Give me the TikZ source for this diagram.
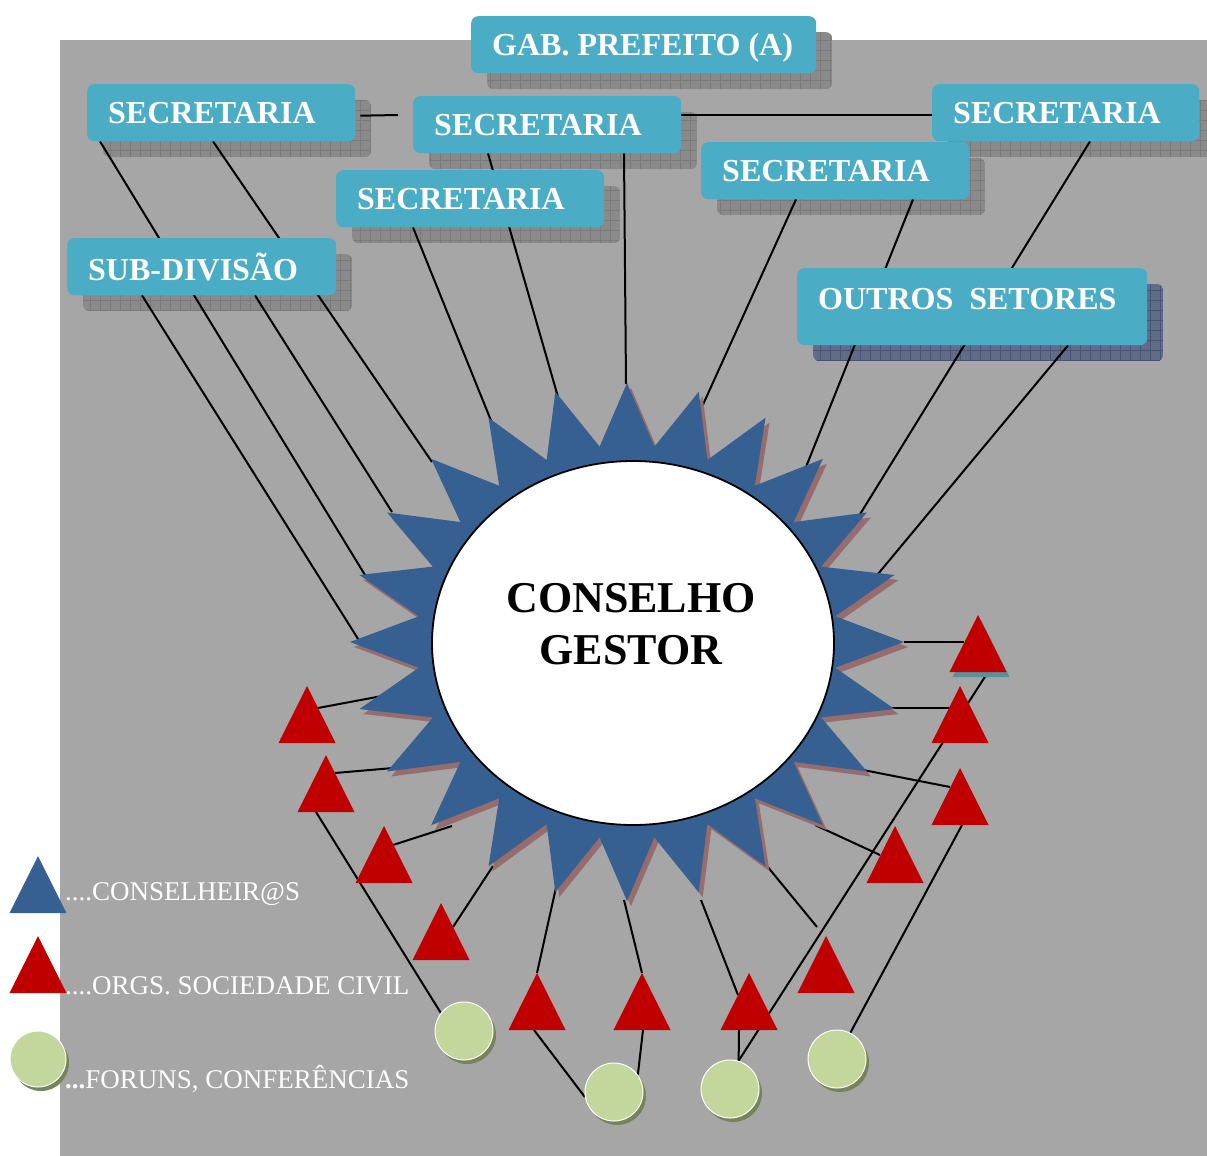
\documentclass[tikz,border=0pt]{standalone}
\usepackage{fontspec}
\setmainfont{Liberation Serif}
\usetikzlibrary{calc}
\definecolor{bggray}{RGB}{166,166,166}
\definecolor{boxblue}{RGB}{75,172,198}
\definecolor{shgray}{RGB}{138,138,138}
\definecolor{shgrid}{RGB}{122,122,122}
\definecolor{shblue}{RGB}{98,108,135}
\definecolor{shbluegrid}{RGB}{70,84,118}
\definecolor{starblue}{RGB}{55,96,146}
\definecolor{starshadow}{RGB}{150,108,108}
\definecolor{trired}{RGB}{192,0,0}
\definecolor{trishadow}{RGB}{90,145,155}
\definecolor{cirgreen}{RGB}{195,214,155}
\definecolor{cirshadow}{RGB}{118,132,92}
\pgfdeclarelayer{back}
\pgfdeclarelayer{mid}
\pgfsetlayers{back,mid,main}
\newcommand\boxshadow[3]{%
  \begin{scope}
    \path[clip, rounded corners=7pt] ([shift={(16,16)}]#1.north west) rectangle ([shift={(16,16)}]#1.south east);
    \fill[#2] ([shift={(16,16)}]#1.north west) rectangle ([shift={(16,16)}]#1.south east);
    \draw[#3, line width=0.5pt, step=10pt] ([shift={(16,16)}]#1.north west) grid ([shift={(16,16)}]#1.south east);
  \end{scope}}
\newcommand\mytri[4]{%
  \coordinate (#1) at (#2,#3);
  \fill[#4] (#1) -- ++(28.5,57) -- ++(-57,0) -- cycle;}
\newcommand\boxtext[2]{\makebox[#1pt][l]{#2}}
\begin{document}
\begin{tikzpicture}[x=1pt, y=-1pt,
  box/.style={fill=boxblue, rounded corners=7pt, text=white,
    font=\fontsize{32}{36}\selectfont\bfseries, inner xsep=21pt, inner ysep=0pt,
    anchor=north west, minimum height=57pt},
  conn/.style={line width=2pt, black},
  circ/.style={circle, fill=cirgreen, draw=white, line width=1pt, minimum size=58pt, inner sep=0pt},
  legtext/.style={text=white, font=\fontsize{27}{30}\selectfont, anchor=base west, inner sep=0pt}]
\useasboundingbox (0,0) rectangle (1207,1156);
\begin{pgfonlayer}{back}
  \fill[white] (0,0) rectangle (1207,1156);
  \fill[bggray] (60,40) rectangle (1207,1156);
\end{pgfonlayer}

% ---------- boxes ----------
\node[box, text depth=0pt] (gab) at (471,16) {\boxtext{303}{GAB. PREFEITO (A)}};
\node[box] (sec1) at (87,84) {\boxtext{226}{SECRETARIA}};
\node[box] (secc) at (413,96) {\boxtext{226}{SECRETARIA}};
\node[box] (secr) at (932,84) {\boxtext{225}{SECRETARIA}};
\node[box] (secmr) at (701,142) {\boxtext{226}{SECRETARIA}};
\node[box] (seclm) at (336,170) {\boxtext{226}{SECRETARIA}};
\node[box] (sub) at (67,238) {\boxtext{227}{SUB-DIVISÃO}};
\node[box, minimum height=77pt, text depth=16pt] (outros) at (797,268) {\boxtext{308}{OUTROS~~SETORES}};

\begin{pgfonlayer}{back}
  \foreach \b in {gab,sec1,secc,secr,secmr,seclm,sub} {\boxshadow{\b}{shgray}{shgrid}}
  \boxshadow{outros}{shblue}{shbluegrid}
\end{pgfonlayer}

% ---------- star ----------
\fill[starshadow, shift={(631,647)}] (0:277 and 259)
  \foreach \a in {0,15,...,345} { -- (\a:277 and 259) -- (\a+7.5:210 and 197) } -- cycle;
\fill[starblue, shift={(627,642)}] (0:277 and 259)
  \foreach \a in {0,15,...,345} { -- (\a:277 and 259) -- (\a+7.5:210 and 197) } -- cycle;
\filldraw[fill=white, draw=black, line width=1.8pt] (633,643) ellipse [x radius=201pt, y radius=182pt];
\node[font=\fontsize{44}{52}\selectfont\bfseries, align=center, inner sep=0pt] (cg) at (631,624) {CONSELHO\\GESTOR};

% star end points
\coordinate (e1) at (365,575);
\coordinate (e2) at (432,462);
\coordinate (e3) at (360,642);
\coordinate (e4) at (392,512);
\coordinate (e5) at (494,428);
\coordinate (e6) at (558,397);
\coordinate (e7) at (626,384);
\coordinate (e8) at (701,409);
\coordinate (e9) at (806,467);
\coordinate (e10) at (854,524);
\coordinate (e11) at (873,580);
\coordinate (r1) at (904,642);
\coordinate (r2) at (891,708);
\coordinate (r3) at (853,768);
\coordinate (r4) at (815,825);
\coordinate (r5) at (758,855);
\coordinate (r6) at (701,900);
\coordinate (r7) at (624,900);
\coordinate (r8) at (557,883);
\coordinate (r9) at (493,866);
\coordinate (r10) at (452,826);
\coordinate (r11) at (393,768);
\coordinate (r12) at (382,696);
\coordinate (stub) at (398,115);

% ---------- triangles ----------
\fill[trishadow] ([shift={(3,5)}]978,615) -- ++(28.5,57) -- ++(-57,0) -- cycle;
\mytri{t1}{307}{686}{trired}
\mytri{t2}{326}{755}{trired}
\mytri{t3}{384}{826}{trired}
\mytri{t4}{441}{903}{trired}
\mytri{t5}{537}{973}{trired}
\mytri{t6}{642}{973}{trired}
\mytri{t7}{749}{973}{trired}
\mytri{t8}{826}{936}{trired}
\mytri{t9}{895}{826}{trired}
\mytri{t10}{960}{768}{trired}
\mytri{t11}{960}{686}{trired}
\mytri{t12}{978}{615}{trired}

% ---------- circles ----------
\foreach \n/\x/\y in {c1/464/1031, c2/614/1092, c3/730/1089, c4/837/1059} {
  \fill[cirshadow] (\x+3,\y+4) circle (29pt);
  \node[circ] (\n) at (\x,\y) {};
}

% ---------- legend ----------
\mytri{lb}{38}{856}{starblue}
\mytri{lr}{38}{936}{trired}
\fill[cirshadow] (41,1063) circle (28pt);
\node[circ, minimum size=56pt] (lc) at (38,1059) {};
\node[legtext] (l1) at (65,900) {....CONSELHEIR@S};
\node[legtext] (l2) at (65,994) {....ORGS. SOCIEDADE CIVIL};
\node[legtext] (l3) at (65,1088) {\textbf{...}FORUNS, CONFERÊNCIAS};

% ---------- connectors ----------
\begin{pgfonlayer}{mid}
  \draw[conn] ([shift={(5,3)}]sec1.east) -- (stub);
  \draw[conn] ([shift={(0,-9.5)}]secc.east) -- ([shift={(12,2.5)}]secr.west);
  \draw[conn] ([xshift=13pt]sec1.south west) -- (e1);
  \draw[conn] ([xshift=126pt]sec1.south west) -- (e2);
  \draw[conn] ([xshift=75pt]sub.south west) -- (e3);
  \draw[conn] ([xshift=188pt]sub.south west) -- (e4);
  \draw[conn] ([xshift=77pt]seclm.south west) -- (e5);
  \draw[conn] ([xshift=75pt]secc.south west) -- (e6);
  \draw[conn] ([xshift=211pt]secc.south west) -- (e7);
  \draw[conn] ([xshift=95pt]secmr.south west) -- (e8);
  \draw[conn] ([xshift=212pt]secmr.south west) -- (e9);
  \draw[conn] ([xshift=158pt]secr.south west) -- (e10);
  \draw[conn] ([xshift=271pt]outros.south west) -- (e11);
  % star -> triangles
  \draw[conn] (r1) -- ([shift={(-14,27)}]t12);
  \draw[conn] (r2) -- ([shift={(-10,22)}]t11);
  \draw[conn] (r3) -- ([shift={(-10,19)}]t10);
  \draw[conn] (r4) -- ([shift={(-15,29)}]t9);
  \draw[conn] (r5) -- ([shift={(-9,-9)}]t8);
  \draw[conn] (r6) -- ([shift={(-11,22)}]t7);
  \draw[conn] (r7) -- (t6);
  \draw[conn] (r8) -- (t5);
  \draw[conn] (r9) -- ([shift={(12,24)}]t4);
  \draw[conn] (r10) -- ([shift={(9,19)}]t3);
  \draw[conn] (r11) -- ([shift={(9,18)}]t2);
  \draw[conn] (r12) -- ([shift={(11,22)}]t1);
  % triangles -> circles
  \draw[conn] ([shift={(-10,57)}]t2) -- (c1.142);
  \draw[conn] ([shift={(-3,57)}]t5) -- (c2.190);
  \draw[conn] ([shift={(1,57)}]t6) -- (c2.36);
  \draw[conn] ([shift={(-10,57)}]t7) -- (c3.73);
  \draw[conn] ([shift={(10,57)}]t12) -- (c3.73);
  \draw[conn] ([shift={(2,57)}]t10) -- (c4.63);
\end{pgfonlayer}
\end{tikzpicture}
\end{document}
